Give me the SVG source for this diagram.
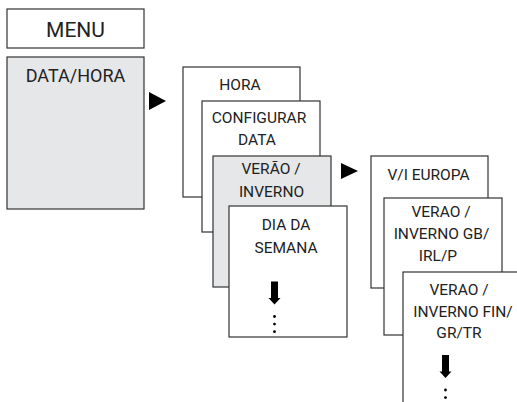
<svg xmlns="http://www.w3.org/2000/svg" width="517" height="402" viewBox="0 0 517 402">
  <style>
    .box { fill: #ffffff; stroke: #333333; stroke-width: 1.2; }
    .sel { fill: #e6e7e8; stroke: #333333; stroke-width: 1.2; }
    .t { font-family: Roboto, "Liberation Sans", sans-serif; font-size: 15.5px; fill: #222222; text-anchor: middle; }
    .mark { fill: #000000; }
  </style>
  <defs>
    <!-- downward arrow followed by a vertical ellipsis -->
    <g id="more">
      <rect x="-3.5" y="0" width="7" height="17" class="mark"/>
      <polygon points="-6,16.5 6,16.5 0,23" class="mark"/>
      <circle cx="0" cy="35" r="1.4" class="mark"/>
      <circle cx="0" cy="42.6" r="1.4" class="mark"/>
      <circle cx="0" cy="50.2" r="1.4" class="mark"/>
    </g>
  </defs>

  <g id="menu">
    <rect x="7" y="9" width="137" height="39" class="box"/>
    <text x="75.5" y="37" class="t" style="font-size:21px">MENU</text>
  </g>

  <g id="data-hora">
    <rect x="7" y="57" width="137" height="152" class="sel"/>
    <text x="75.5" y="81.5" class="t" style="font-size:18px">DATA/HORA</text>
  </g>

  <g id="connectors">
    <polygon points="149,92 166,101 149,110" class="mark"/>
    <polygon points="341,163 358,171 341,179" class="mark"/>
  </g>

  <g id="hora">
    <rect x="183" y="67" width="117" height="130" class="box"/>
    <text x="240" y="89.5" class="t">HORA</text>
  </g>

  <g id="configurar-data">
    <rect x="202" y="101" width="118" height="131" class="box"/>
    <text x="259" y="122.5" class="t">CONFIGURAR</text>
    <text x="257" y="145" class="t">DATA</text>
  </g>

  <g id="verao-inverno">
    <rect x="213" y="156" width="118" height="131" class="sel"/>
    <text x="271" y="173.5" class="t">VERÃO /</text>
    <text x="271.5" y="196.5" class="t">INVERNO</text>
  </g>

  <g id="dia-da-semana">
    <rect x="229" y="206" width="118" height="131" class="box"/>
    <text x="286" y="230" class="t">DIA DA</text>
    <text x="286" y="253" class="t">SEMANA</text>
    <use href="#more" x="274.5" y="281.5"/>
  </g>

  <g id="vi-europa">
    <rect x="371" y="156" width="117" height="132" class="box"/>
    <text x="428.5" y="180" class="t">V/I EUROPA</text>
  </g>

  <g id="verao-gb">
    <rect x="384" y="198" width="118" height="137" class="box"/>
    <text x="441" y="216.5" class="t">VERAO /</text>
    <text x="441.5" y="239" class="t">INVERNO GB/</text>
    <text x="438" y="261" class="t">IRL/P</text>
  </g>

  <g id="verao-fin">
    <rect x="403" y="272" width="118" height="140" class="box"/>
    <text x="459" y="295" class="t">VERAO /</text>
    <text x="463" y="316.5" class="t">INVERNO FIN/</text>
    <text x="459" y="337.5" class="t">GR/TR</text>
    <use href="#more" x="445.5" y="355"/>
  </g>
</svg>
